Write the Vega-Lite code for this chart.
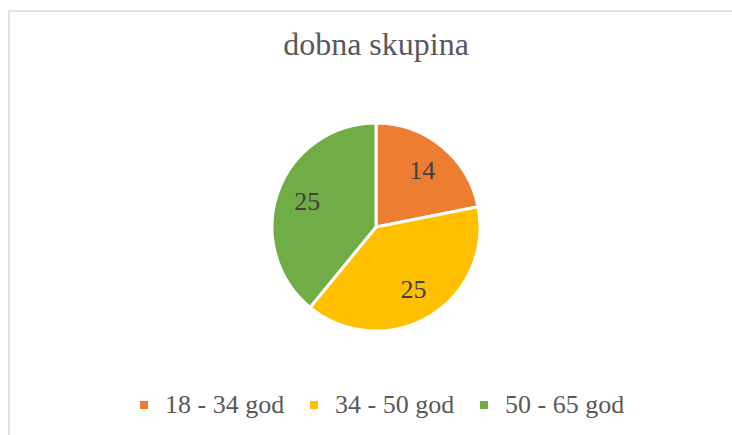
{
  "$schema": "https://vega.github.io/schema/vega-lite/v6.json",
  "width": 734,
  "height": 432,
  "autosize": {"type": "none"},
  "padding": {"left": 9, "top": 11, "right": 0, "bottom": 0},
  "background": "white",
  "view": {"stroke": "#d9d9d9", "strokeWidth": 1.5},
  "title": {
    "text": "dobna skupina",
    "font": "Liberation Serif, Times New Roman, serif",
    "fontSize": 32,
    "fontWeight": "normal",
    "color": "#595959",
    "anchor": "middle",
    "frame": "group",
    "baseline": "alphabetic",
    "offset": -76
  },
  "data": {
    "values": [
      {"skupina": "18 - 34 god", "broj": 14},
      {"skupina": "34 - 50 god", "broj": 25},
      {"skupina": "50 - 65 god", "broj": 25}
    ]
  },
  "encoding": {
    "theta": {"field": "broj", "type": "quantitative", "stack": true},
    "order": {"field": "skupina", "type": "nominal", "sort": "ascending"},
    "color": {
      "field": "skupina",
      "type": "nominal",
      "scale": {
        "domain": ["18 - 34 god", "34 - 50 god", "50 - 65 god"],
        "range": ["#ED7D31", "#FFC000", "#70AD47"]
      },
      "legend": {
        "title": null,
        "orient": "none",
        "direction": "horizontal",
        "legendX": 122,
        "legendY": 381,
        "labelFont": "Liberation Serif, Times New Roman, serif",
        "labelFontSize": 26,
        "labelColor": "#595959",
        "symbolType": "square",
        "symbolSize": 64,
        "symbolStrokeWidth": 0,
        "labelOffset": 8,
        "columnPadding": 16
      }
    }
  },
  "layer": [
    {"mark": {"type": "arc", "outerRadius": 104, "stroke": "white", "strokeWidth": 3}},
    {
      "mark": {"type": "text", "radius": 73, "font": "Liberation Serif, Times New Roman, serif", "fontSize": 26},
      "encoding": {
        "text": {"field": "broj", "type": "quantitative"},
        "color": {"value": "#404040"}
      }
    }
  ]
}
